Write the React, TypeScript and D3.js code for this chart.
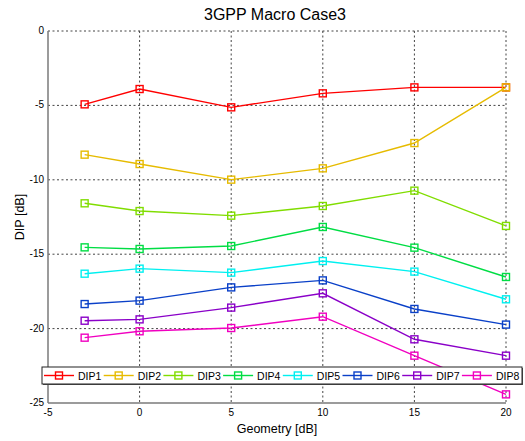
import React from "react";
import * as d3 from "d3";

const geometry = [-3, 0, 5, 10, 15, 20];
const seriesNames = ["DIP1", "DIP2", "DIP3", "DIP4", "DIP5", "DIP6", "DIP7", "DIP8"];
const seriesColors = ["#ff0000", "#e6bb00", "#80dd00", "#00dd44", "#00f0f0", "#0a40c8", "#8a00c8", "#f000c0"];
const dip1 = [-4.93, -3.9, -5.13, -4.19, -3.79, -3.79];
const dip2 = [-8.31, -8.94, -9.99, -9.23, -7.53, -3.79];
const dip3 = [-11.58, -12.1, -12.41, -11.76, -10.73, -13.1];
const dip4 = [-14.54, -14.65, -14.45, -13.17, -14.56, -16.53];
const dip5 = [-16.31, -15.97, -16.24, -15.46, -16.17, -18.03];
const dip6 = [-18.35, -18.12, -17.23, -16.76, -18.68, -19.73];
const dip7 = [-19.47, -19.38, -18.59, -17.63, -20.72, -21.82];
const dip8 = [-20.61, -20.18, -19.96, -19.2, -21.82, -24.42];
const xTicks = [-5, 0, 5, 10, 15, 20];
const yTicks = [0, -5, -10, -15, -20, -25];

const allSeries = [dip1, dip2, dip3, dip4, dip5, dip6, dip7, dip8];

const W = 525;
const H = 441;
const margin = { left: 48, right: 19, top: 31, bottom: 38 };
const font = "'Liberation Sans', Arial, sans-serif";

export default function App() {
  const x = d3.scaleLinear().domain([-5, 20]).range([margin.left, W - margin.right]);
  const y = d3.scaleLinear().domain([-25, 0]).range([H - margin.bottom, margin.top]);
  const line = d3
    .line<number>()
    .x((_, i) => x(geometry[i]))
    .y((d) => y(d));

  const gridColor = "#444";
  const ms = 7;
  const legX = 42;
  const legY = 367;
  const legW = 480;
  const legH = 17;
  const legStep = 59.7;

  return (
    <svg width={W} height={H} style={{ position: "absolute", left: 0, top: 0, background: "#fff" }}>
      <rect x={0} y={0} width={W} height={H} fill="#fff" />
      {/* grid */}
      {xTicks.filter((t) => t > -5).map((t) => (
        <line key={"gx" + t} x1={x(t)} x2={x(t)} y1={y(0)} y2={y(-25)} stroke={gridColor} strokeWidth={1} strokeDasharray="2,2.5" />
      ))}
      {yTicks.filter((t) => t > -25).map((t) => (
        <line key={"gy" + t} x1={x(-5)} x2={x(20)} y1={y(t)} y2={y(t)} stroke={gridColor} strokeWidth={1} strokeDasharray="2,2.5" />
      ))}
      {/* axes */}
      <line x1={x(-5)} x2={x(-5)} y1={y(0)} y2={y(-25)} stroke="#7a7a7a" strokeWidth={1.5} />
      <line x1={x(-5)} x2={x(20)} y1={y(-25)} y2={y(-25)} stroke="#7a7a7a" strokeWidth={1.5} />
      {/* tick labels */}
      {yTicks.map((t) => (
        <text key={"ty" + t} x={x(-5) - 4} y={y(t) + 3} textAnchor="end" fontFamily={font} fontSize={10} fill="#000">
          {t}
        </text>
      ))}
      {xTicks.map((t) => (
        <text key={"tx" + t} x={x(t)} y={y(-25) + 13} textAnchor="middle" fontFamily={font} fontSize={10} fill="#000">
          {t}
        </text>
      ))}
      {/* series */}
      {allSeries.map((s, k) => (
        <g key={"s" + k}>
          <path d={line(s) || ""} fill="none" stroke={seriesColors[k]} strokeWidth={1.4} />
          {s.map((v, i) => (
            <rect key={i} x={x(geometry[i]) - ms / 2} y={y(v) - ms / 2} width={ms} height={ms} fill="none" stroke={seriesColors[k]} strokeWidth={1.4} />
          ))}
        </g>
      ))}
      {/* legend */}
      <rect x={legX + 1} y={legY + 1} width={legW} height={legH} fill="#555" />
      <rect x={legX} y={legY} width={legW} height={legH} fill="#fff" stroke="#222" strokeWidth={1} />
      {seriesNames.map((name, k) => {
        const lx = legX + 2 + k * legStep;
        const cy = legY + legH / 2;
        return (
          <g key={"l" + k}>
            <line x1={lx} x2={lx + 30} y1={cy} y2={cy} stroke={seriesColors[k]} strokeWidth={1.4} />
            <rect x={lx + 15 - ms / 2} y={cy - ms / 2} width={ms} height={ms} fill="none" stroke={seriesColors[k]} strokeWidth={1.4} />
            <text x={lx + 34} y={cy + 4} fontFamily={font} fontSize={10.5} fill="#000">
              {name}
            </text>
          </g>
        );
      })}
      {/* titles */}
      <text x={275} y={20} textAnchor="middle" fontFamily={font} fontSize={16} fill="#000">
        3GPP Macro Case3
      </text>
      <text x={277} y={433} textAnchor="middle" fontFamily={font} fontSize={12.5} fill="#000">
        Geometry [dB]
      </text>
      <text transform={`translate(24,${(y(0) + y(-25)) / 2}) rotate(-90)`} textAnchor="middle" fontFamily={font} fontSize={12.5} fill="#000">
        DIP [dB]
      </text>
    </svg>
  );
}
